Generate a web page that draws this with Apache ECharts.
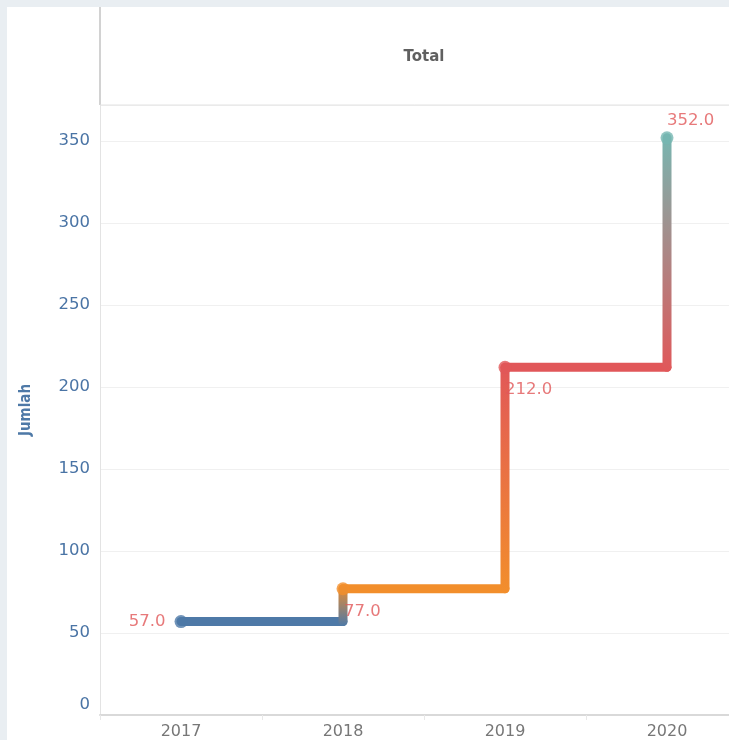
<!DOCTYPE html>
<html>
<head>
<meta charset="utf-8">
<script src="https://cdn.jsdelivr.net/npm/echarts@6/dist/echarts.min.js"></script>
<style>
  html, body { margin: 0; padding: 0; background: #e9eef2; overflow: hidden; }
  #chart { position: absolute; left: 7px; top: 7px; width: 722px; height: 733px; background: #fff; }
</style>
</head>
<body>
<div id="chart"></div>
<script>
// data
const years = ['2017', '2018', '2019', '2020'];
const totals = [57, 77, 212, 352];
const yearColors = ['#4e79a7', '#f28e2b', '#e15759', '#76b7b2'];
const yTicks = [0, 50, 100, 150, 200, 250, 300, 350];

const chart = echarts.init(document.getElementById('chart'));
const labelRed = '#e15759';
const font = 'DejaVu Sans';
const lineW = 9;

const series = [];
// horizontal steps, one colour per year
for (let i = 1; i < years.length; i++) {
  series.push({
    type: 'line', silent: true, symbol: 'none', clip: false, z: 2,
    data: [[years[i - 1], totals[i - 1]], [years[i], totals[i - 1]]],
    lineStyle: { color: yearColors[i - 1], width: lineW, cap: 'round', join: 'round' }
  });
}
// vertical risers, colour blends from previous year to this year
for (let i = 1; i < years.length; i++) {
  series.push({
    type: 'line', silent: true, symbol: 'none', clip: false, z: 3,
    data: [[years[i], totals[i - 1]], [years[i], totals[i]]],
    lineStyle: {
      width: lineW, cap: 'round', join: 'round',
      color: new echarts.graphic.LinearGradient(0, 1, 0, 0, [
        { offset: 0, color: yearColors[i - 1] },
        { offset: 1, color: yearColors[i] }
      ])
    }
  });
}
// points with value labels
const labelPlace = [
  { position: 'left', distance: 9 },
  { position: 'inside', align: 'left', offset: [1, 23] },
  { position: 'inside', align: 'left', offset: [0, 22] },
  { position: 'inside', align: 'left', offset: [0, -17] }
];
series.push({
  type: 'scatter', clip: false, z: 4, symbolSize: 13,
  data: years.map((y, i) => ({
    value: [y, totals[i]],
    itemStyle: { color: yearColors[i] },
    label: labelPlace[i]
  })),
  label: {
    show: true, color: labelRed, fontSize: 16.5, fontFamily: font,
    formatter: p => p.value[1].toFixed(1)
  }
});

chart.setOption({
  animation: false,
  grid: { left: 93, width: 648, top: 98, bottom: 25, outerBoundsMode: 'none', containLabel: false },
  xAxis: {
    type: 'category', data: years, boundaryGap: true,
    axisLine: { lineStyle: { color: '#d9d9d9', width: 2 } },
    axisTick: { show: true, length: 5, lineStyle: { color: '#e8e8e8' } },
    axisLabel: { color: '#777', fontSize: 16, fontFamily: font, margin: 9 },
    splitLine: { show: false }
  },
  yAxis: {
    type: 'value', min: 0, max: 372,
    name: 'Jumlah', nameLocation: 'middle', nameGap: 66,
    nameTextStyle: { color: '#4e79a7', fontSize: 15, fontWeight: 'bold', fontFamily: 'DejaVu Sans Condensed' },
    axisLine: { show: true, lineStyle: { color: '#e3e3e3', width: 1 } },
    axisTick: { show: false, customValues: yTicks.concat([372]) },
    axisLabel: {
      customValues: yTicks,
      color: '#4a74a5', fontSize: 16.5, fontFamily: font, margin: 10,
      formatter: v => v === 0 ? '{z|0}' : String(v),
      rich: { z: { color: '#4a74a5', fontSize: 16.5, fontFamily: font, padding: [0, 0, 20, 0] } }
    },
    splitLine: { show: true, lineStyle: { color: '#f0f0f0', width: 1 } }
  },
  graphic: [
    { type: 'line', z: 10, shape: { x1: 93, y1: 0, x2: 93, y2: 98 }, style: { stroke: '#d2d2d2', lineWidth: 2 } },
    { type: 'line', z: 10, shape: { x1: 93, y1: 98, x2: 722, y2: 98 }, style: { stroke: '#e3e3e3', lineWidth: 1 } },
    { type: 'text', z: 10, x: 417, y: 50, style: { text: 'Total', fill: '#606060', font: 'bold 15px "DejaVu Sans"', align: 'center', verticalAlign: 'middle' } }
  ],
  series: series
});
</script>
</body>
</html>
